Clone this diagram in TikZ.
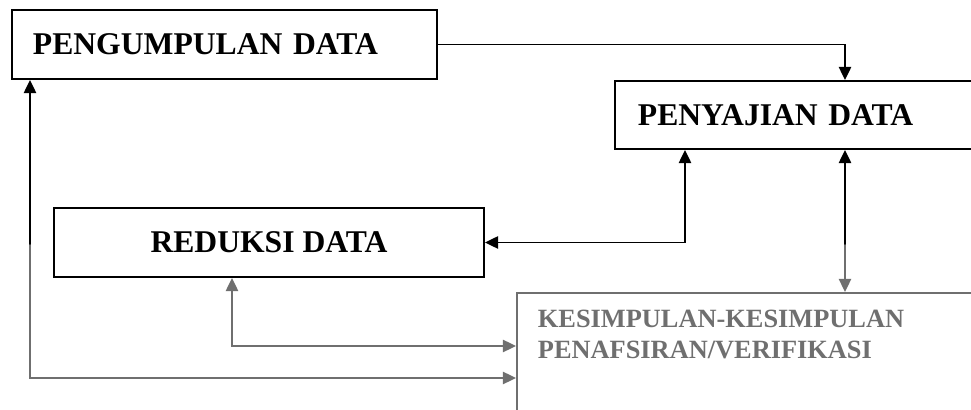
\documentclass[tikz,border=0pt]{standalone}
\usepackage{fontspec}
\setmainfont{Liberation Serif}
\usepackage{tikz}
\usetikzlibrary{arrows.meta}
\usepackage{xcolor}
\definecolor{dimink}{HTML}{6F6F6F}

\begin{document}
\begin{tikzpicture}[>={Triangle[length=7.5pt,width=7pt]},line width=1.1pt,line cap=round,
  box/.style={draw,rectangle,inner xsep=0pt,inner ysep=0pt,line cap=butt,font=\bfseries\fontsize{18}{20}\selectfont},
  endbox/.style={box,draw=dimink,text=dimink,font=\bfseries\fontsize{15}{17.6}\selectfont}]
\useasboundingbox (0,0) rectangle (19.42,8.2);
\clip (0,0) rectangle (19.42,8.2);
\node[box,anchor=west,minimum height=1.38cm,text width=7.66cm,inner xsep=0.42cm,align=left] (peng) at (0.22,7.31) {PENGUMPULAN DATA};
\node[box,anchor=west,minimum height=1.36cm,text width=7.3cm,inner xsep=0.46cm,align=left] (peny) at (12.28,5.9) {PENYAJIAN DATA};
\node[box,minimum width=8.6cm,minimum height=1.38cm,align=center] (red) at (5.38,3.35) {REDUKSI DATA};
\node[endbox,anchor=north west,text width=8.84cm,inner xsep=0.42cm,inner ysep=10pt,text depth=3cm,align=left] (kes) at (10.32,2.36) {KESIMPULAN-KESIMPULAN\\PENAFSIRAN/VERIFIKASI};
\coordinate (fadeat) at (0,3.3);
\coordinate (pp) at (16.9,0);
\coordinate (pr) at (13.7,0);
\coordinate (rk) at (4.64,1.28);
\coordinate (gk) at (0.6,0.64);
\draw[->] (peng.east) -| (pp |- peny.north);
\draw[<->] (red.east) -| (pr |- peny.south);
\draw[<-] (pp |- peny.south) -- (pp |- fadeat);
\draw[dimink,->] (pp |- fadeat) -- (pp |- kes.north);
\draw[dimink,<->] (rk |- red.south) |- (kes.west |- rk);
\draw[<-] (gk |- peng.south) -- (gk |- fadeat);
\draw[dimink,->] (gk |- fadeat) |- (kes.west |- gk);
\end{tikzpicture}
\end{document}
